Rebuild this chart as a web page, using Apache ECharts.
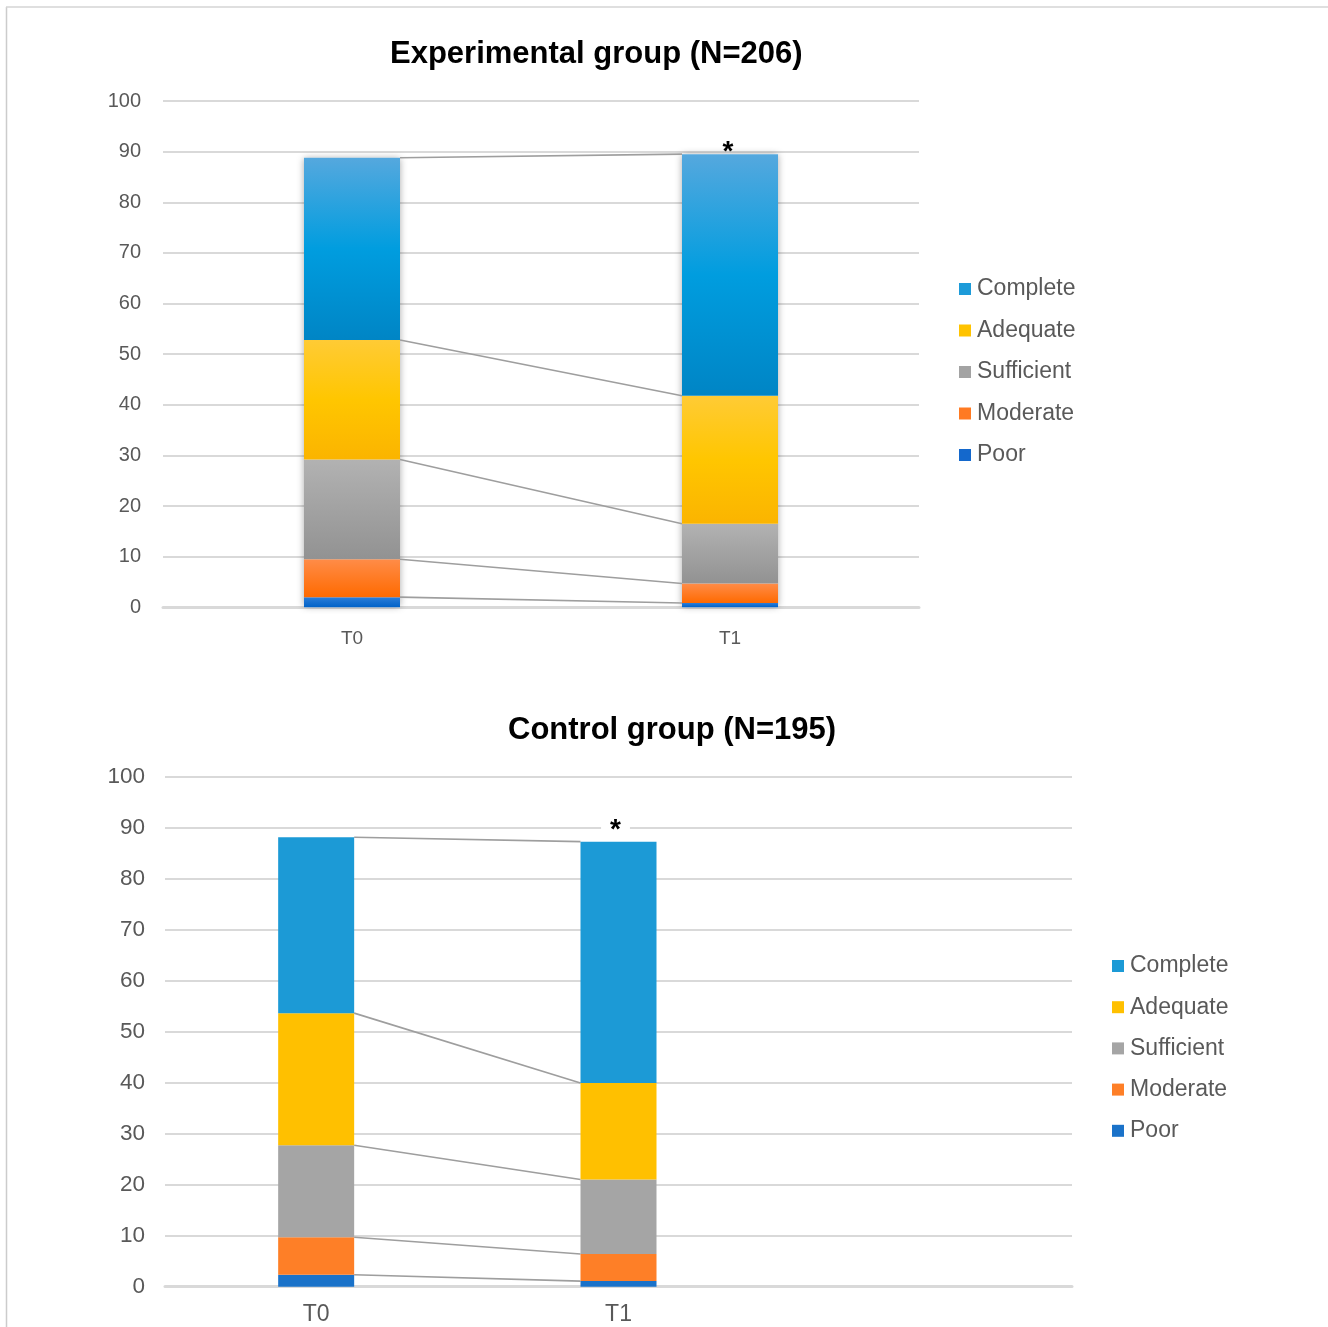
<!DOCTYPE html>
<html>
<head>
<meta charset="utf-8">
<title>Experimental and control group</title>
<script src="https://cdn.jsdelivr.net/npm/echarts@6/dist/echarts.min.js"></script>
<style>
  html, body { margin: 0; padding: 0; background: #ffffff; }
  #chart { width: 1328px; height: 1327px; }
</style>
</head>
<body>
<div id="chart"></div>
<script>
// Time points
const categoriesExp = ['T0', 'T1'];
const categoriesCtl = ['T0', 'T1', ''];

// Levels, stacked from bottom to top
const levelNames = ['Poor', 'Moderate', 'Sufficient', 'Adequate', 'Complete'];
const legendOrder = ['Complete', 'Adequate', 'Sufficient', 'Moderate', 'Poor'];

// Experimental group (N=206), percentages at T0 and T1
const expPoor       = [2.0, 0.85];
const expModerate   = [7.5, 3.85];
const expSufficient = [19.7, 11.8];
const expAdequate   = [23.6, 25.3];
const expComplete   = [36.0, 47.7];

// Control group (N=195), percentages at T0 and T1
const ctlPoor       = [2.35, 1.1];
const ctlModerate   = [7.35, 5.3];
const ctlSufficient = [18.0, 14.6];
const ctlAdequate   = [25.9, 18.9];
const ctlComplete   = [34.45, 47.3];

// Value axis ticks
const yTicks = { min: 0, max: 100, interval: 10 };

const expSeriesValues = [expPoor, expModerate, expSufficient, expAdequate, expComplete];
const ctlSeriesValues = [ctlPoor, ctlModerate, ctlSufficient, ctlAdequate, ctlComplete];

const FONT = '"Liberation Sans", Arial, sans-serif';
const LABEL_COLOR = '#595959';
const GRID_COLOR = '#d9d9d9';

function vgrad(stops) {
  return {
    type: 'linear', x: 0, y: 0, x2: 0, y2: 1,
    colorStops: stops.map(function (c, i) { return { offset: i / (stops.length - 1), color: c }; })
  };
}

// Shaded fills for the experimental chart, flat fills for the control chart
const expFills = {
  Poor:       vgrad(['#2c7dd8', '#0062c8']),
  Moderate:   vgrad(['#ff8c48', '#ff6a00']),
  Sufficient: vgrad(['#b2b2b2', '#929292']),
  Adequate:   vgrad(['#ffcb35', '#ffc600', '#fbb400']),
  Complete:   vgrad(['#55a8de', '#009ddf', '#0085c5'])
};
const expLegendColors = {
  Poor: '#1468cc', Moderate: '#ff7a22', Sufficient: '#a3a3a3', Adequate: '#ffc300', Complete: '#1d9bd9'
};
const ctlFills = {
  Poor: '#1a72c9', Moderate: '#fe7f27', Sufficient: '#a5a5a5', Adequate: '#ffc000', Complete: '#1c9ad6'
};

// Cumulative tops of each level, for the connecting lines
function cumulative(seriesValues, idx) {
  const out = [];
  let acc = 0;
  seriesValues.forEach(function (vals) { acc += vals[idx]; out.push(acc); });
  return out;
}
function connectorData(seriesValues) {
  const c0 = cumulative(seriesValues, 0);
  const c1 = cumulative(seriesValues, 1);
  return c0.map(function (v, i) { return [0, v, 1, c1[i]]; });
}
function totals(seriesValues, n) {
  const out = [];
  for (let i = 0; i < n; i++) out.push(cumulative(seriesValues, i).pop());
  return out;
}

function connectorRenderer(halfWidth) {
  return function (params, api) {
    const a = api.coord([api.value(0), api.value(1)]);
    const b = api.coord([api.value(2), api.value(3)]);
    return {
      type: 'line',
      shape: { x1: a[0] + halfWidth, y1: a[1], x2: b[0] - halfWidth, y2: b[1] },
      style: { stroke: '#9e9e9e', lineWidth: 1.6 }
    };
  };
}

const EXP_BAR = 96;
const CTL_BAR = 76;

function stackSeries(seriesValues, fills, axisIdx, stackName, barWidth, starLabel) {
  return levelNames.map(function (name, i) {
    const data = seriesValues[i].map(function (v, j) {
      if (name === 'Complete' && j === 1) {
        return { value: v, label: starLabel };
      }
      return v;
    });
    return {
      name: name,
      type: 'bar',
      stack: stackName,
      xAxisIndex: axisIdx,
      yAxisIndex: axisIdx,
      barWidth: barWidth,
      barGap: '-100%',
      z: 3,
      itemStyle: { color: fills[name] },
      emphasis: { disabled: true },
      data: data
    };
  });
}

const expStar = {
  show: true, position: 'top', distance: 0, offset: [-2, 8],
  formatter: '*', color: '#000', fontSize: 28, fontWeight: 'bold', fontFamily: FONT,
  lineHeight: 20
};
const ctlStar = {
  show: true, position: 'top', distance: 0, offset: [-3, -1],
  formatter: '*', color: '#000', fontSize: 28, fontWeight: 'bold', fontFamily: FONT,
  lineHeight: 20,
  backgroundColor: '#ffffff', padding: [0, 9, 0, 9]
};

function valueAxis(gridIndex, fontSize, margin) {
  return {
    type: 'value', gridIndex: gridIndex,
    min: yTicks.min, max: yTicks.max, interval: yTicks.interval,
    axisLine: { show: false }, axisTick: { show: false },
    axisLabel: { color: LABEL_COLOR, fontSize: fontSize, fontFamily: FONT, margin: margin },
    splitLine: { lineStyle: { color: GRID_COLOR, width: 2 } }
  };
}
function categoryAxis(gridIndex, data, fontSize, margin) {
  return {
    type: 'category', gridIndex: gridIndex, data: data,
    axisLine: { lineStyle: { color: GRID_COLOR, width: 3 } },
    axisTick: { show: false },
    axisLabel: { color: LABEL_COLOR, fontSize: fontSize, fontFamily: FONT, margin: margin }
  };
}

const option = {
  animation: false,
  backgroundColor: '#ffffff',
  title: [
    {
      text: 'Experimental group (N=206)', left: 385, top: 34,
      textStyle: { fontSize: 31, fontWeight: 'bold', color: '#000', fontFamily: FONT }
    },
    {
      text: 'Control group (N=195)', left: 503, top: 710,
      textStyle: { fontSize: 31, fontWeight: 'bold', color: '#000', fontFamily: FONT }
    }
  ],
  legend: [
    {
      orient: 'vertical', left: 959, top: 276, padding: 0,
      itemWidth: 12, itemHeight: 12, itemGap: 15.5,
      icon: 'rect',
      selectedMode: false,
      textStyle: { fontSize: 23, color: LABEL_COLOR, fontFamily: FONT, lineHeight: 26, padding: [0, 0, 0, 1] },
      data: legendOrder.map(function (n) { return { name: n, itemStyle: { color: expLegendColors[n] } }; })
    },
    {
      orient: 'vertical', left: 1112, top: 953, padding: 0,
      itemWidth: 12, itemHeight: 12, itemGap: 15.2,
      icon: 'rect',
      selectedMode: false,
      textStyle: { fontSize: 23, color: LABEL_COLOR, fontFamily: FONT, lineHeight: 26, padding: [0, 0, 0, 1] },
      data: legendOrder.map(function (n) { return { name: n, itemStyle: { color: ctlFills[n] } }; })
    }
  ],
  grid: [
    { left: 163, top: 101, width: 756, height: 506.3 },
    { left: 165, top: 776.3, width: 907, height: 510.4 }
  ],
  xAxis: [
    categoryAxis(0, categoriesExp, 19, 22),
    categoryAxis(1, categoriesCtl, 23, 16)
  ],
  yAxis: [
    valueAxis(0, 20, 22),
    valueAxis(1, 22.5, 20)
  ],
  graphic: [
    { type: 'line', shape: { x1: 6.5, y1: 7, x2: 6.5, y2: 1327 }, style: { stroke: '#cccccc', lineWidth: 1.5 }, silent: true },
    { type: 'line', shape: { x1: 6, y1: 7, x2: 1328, y2: 7 }, style: { stroke: '#d4d4d4', lineWidth: 1.5 }, silent: true }
  ],
  series: [].concat(
    [{
      name: 'expShade',
      type: 'bar',
      xAxisIndex: 0, yAxisIndex: 0,
      barWidth: EXP_BAR,
      barGap: '-100%',
      z: 1,
      silent: true,
      itemStyle: { color: '#ffffff', shadowBlur: 7, shadowColor: 'rgba(0,0,0,0.35)' },
      data: totals(expSeriesValues, 2)
    }],
    stackSeries(expSeriesValues, expFills, 0, 'exp', EXP_BAR, expStar),
    stackSeries(ctlSeriesValues, ctlFills, 1, 'ctl', CTL_BAR, ctlStar),
    [
      {
        name: 'expLinks', type: 'custom', xAxisIndex: 0, yAxisIndex: 0,
        renderItem: connectorRenderer(EXP_BAR / 2), encode: { x: [0, 2], y: [1, 3] },
        silent: true, z: 2, data: connectorData(expSeriesValues)
      },
      {
        name: 'ctlLinks', type: 'custom', xAxisIndex: 1, yAxisIndex: 1,
        renderItem: connectorRenderer(CTL_BAR / 2), encode: { x: [0, 2], y: [1, 3] },
        silent: true, z: 2, data: connectorData(ctlSeriesValues)
      }
    ]
  )
};

const chart = echarts.init(document.getElementById('chart'), null, { renderer: 'canvas' });
chart.setOption(option);
</script>
</body>
</html>
